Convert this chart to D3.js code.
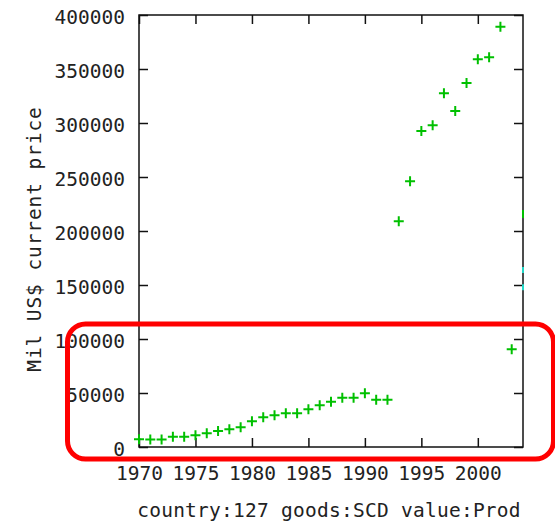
<!DOCTYPE html>
<html>
<head>
<meta charset="utf-8">
<script src="https://cdn.jsdelivr.net/npm/d3@7"></script>
<style>
  body { margin: 0; background: #fff; }
  text { font-family: "DejaVu Sans Mono", monospace; fill: #222; }
</style>
</head>
<body>
<div id="container"></div>
<script>
const years = [1970, 1971, 1972, 1973, 1974, 1975, 1976, 1977, 1978, 1979,
               1980, 1981, 1982, 1983, 1984, 1985, 1986, 1987, 1988, 1989,
               1990, 1991, 1992, 1993, 1994, 1995, 1996, 1997, 1998, 1999,
               2000, 2001, 2002, 2003];
const prod = [7100, 7000, 7000, 9500, 9500, 10800, 12700, 14800, 16400, 18200,
              23800, 27500, 29300, 31200, 31200, 34900, 38600, 42000, 45700, 45700,
              49700, 43800, 43800, 209000, 246000, 292600, 297900, 327500, 311000, 337000,
              359000, 360800, 389200, 90400];
// points sitting on the right border (2004), only a sliver shows
const edgeGreen = [215700];
const edgeCyan = [164000, 148000];
const xTicks = [1970, 1975, 1980, 1985, 1990, 1995, 2000];
const yTicks = [0, 50000, 100000, 150000, 200000, 250000, 300000, 350000, 400000];

const W = 555, H = 521;
const pLeft = 139, pRight = 523, pTop = 15, pBottom = 447;
const fs = 19.5;

const svg = d3.select("#container").append("svg")
  .attr("width", W).attr("height", H);

const x = d3.scaleLinear().domain([1970, 2004]).range([pLeft, pRight]);
const y = d3.scaleLinear().domain([0, 400000]).range([pBottom, pTop]);

// axes with inward ticks
const gx = svg.append("g")
  .attr("transform", "translate(0," + pBottom + ")")
  .call(d3.axisBottom(x).tickValues(xTicks).tickFormat(d3.format("d"))
    .tickSizeInner(-9).tickSizeOuter(0).tickPadding(19.5));
const gy = svg.append("g")
  .attr("transform", "translate(" + pLeft + ",0)")
  .call(d3.axisLeft(y).tickValues(yTicks).tickFormat(d3.format("d"))
    .tickSizeInner(-9).tickSizeOuter(0).tickPadding(14));
const gt = svg.append("g")
  .attr("transform", "translate(0," + pTop + ")")
  .call(d3.axisTop(x).tickValues(xTicks).tickFormat("")
    .tickSizeInner(-9).tickSizeOuter(0));
const gr = svg.append("g")
  .attr("transform", "translate(" + pRight + ",0)")
  .call(d3.axisRight(y).tickValues(yTicks).tickFormat("")
    .tickSizeInner(-9).tickSizeOuter(0));

[gx, gy, gt, gr].forEach(g => {
  g.select(".domain").remove();
  g.selectAll(".tick line").attr("stroke", "#111").attr("stroke-width", 1.5);
  g.selectAll("text").attr("font-size", fs).attr("font-family", "DejaVu Sans Mono").attr("fill", "#333");
});
gy.selectAll("text").attr("dy", "0.45em");

// frame
svg.append("rect")
  .attr("x", pLeft).attr("y", pTop)
  .attr("width", pRight - pLeft).attr("height", pBottom - pTop)
  .attr("fill", "none").attr("stroke", "#111").attr("stroke-width", 1.5);

// points
const pts = svg.append("g").attr("stroke", "#00c000").attr("stroke-width", 2);
const arm = 5;
pts.selectAll("path").data(years).enter().append("path")
  .attr("d", (d, i) => {
    const cx = x(d), cy = y(prod[i]);
    return "M" + (cx - arm) + "," + cy + "H" + (cx + arm) +
           "M" + cx + "," + (cy - arm) + "V" + (cy + arm);
  });

svg.append("g").attr("stroke", "#00c000").attr("stroke-width", 2)
  .selectAll("line").data(edgeGreen).enter().append("line")
  .attr("x1", x(2004)).attr("x2", x(2004))
  .attr("y1", d => y(d) - 4).attr("y2", d => y(d) + 4);
svg.append("g").attr("stroke", "#20d8c8").attr("stroke-width", 2)
  .selectAll("line").data(edgeCyan).enter().append("line")
  .attr("x1", x(2004)).attr("x2", x(2004))
  .attr("y1", d => y(d) - 3).attr("y2", d => y(d) + 3);

// labels
svg.append("text")
  .attr("transform", "translate(41,239) rotate(-90)")
  .attr("text-anchor", "middle")
  .attr("font-size", fs)
  .attr("letter-spacing", 0.9)
  .attr("fill", "#333")
  .text("Mil US$ current price");
svg.append("text")
  .attr("x", 329).attr("y", 517)
  .attr("text-anchor", "middle")
  .attr("font-size", fs)
  .attr("letter-spacing", 0.25)
  .attr("fill", "#333")
  .text("country:127 goods:SCD value:Prod");

// red highlight box
svg.append("rect")
  .attr("x", 67.5).attr("y", 324)
  .attr("width", 486).attr("height", 135)
  .attr("rx", 18).attr("ry", 18)
  .attr("fill", "none").attr("stroke", "#ff0000").attr("stroke-width", 5);
</script>
</body>
</html>
